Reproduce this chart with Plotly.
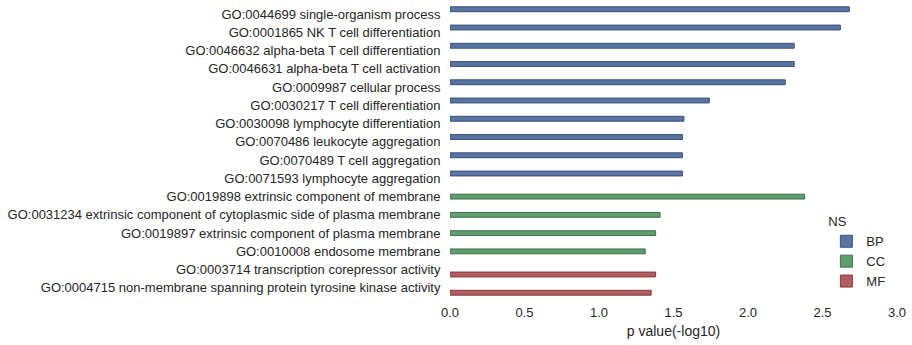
import plotly.graph_objects as go

# GO terms grouped by namespace, with enrichment p values (-log10)
bp_terms = [
    "GO:0044699 single-organism process",
    "GO:0001865 NK T cell differentiation",
    "GO:0046632 alpha-beta T cell differentiation",
    "GO:0046631 alpha-beta T cell activation",
    "GO:0009987 cellular process",
    "GO:0030217 T cell differentiation",
    "GO:0030098 lymphocyte differentiation",
    "GO:0070486 leukocyte aggregation",
    "GO:0070489 T cell aggregation",
    "GO:0071593 lymphocyte aggregation",
]
bp_values = [2.68, 2.62, 2.31, 2.31, 2.25, 1.74, 1.57, 1.56, 1.56, 1.56]

cc_terms = [
    "GO:0019898 extrinsic component of membrane",
    "GO:0031234 extrinsic component of cytoplasmic side of plasma membrane",
    "GO:0019897 extrinsic component of plasma membrane",
    "GO:0010008 endosome membrane",
]
cc_values = [2.38, 1.41, 1.38, 1.31]

mf_terms = [
    "GO:0003714 transcription corepressor activity",
    "GO:0004715 non-membrane spanning protein tyrosine kinase activity",
]
mf_values = [1.38, 1.35]

namespaces = ["BP", "CC", "MF"]
x_ticks = [0.0, 0.5, 1.0, 1.5, 2.0, 2.5, 3.0]

fills = {"BP": "#5874a2", "CC": "#5e9e6e", "MF": "#b45d60"}
edges = {"BP": "#3a5078", "CC": "#3e7049", "MF": "#823c3f"}

all_terms = bp_terms + cc_terms + mf_terms
groups = {"BP": (bp_terms, bp_values), "CC": (cc_terms, cc_values), "MF": (mf_terms, mf_values)}

FONT = "Liberation Sans, Arial, sans-serif"
TEXT = "#262626"

fig = go.Figure()
for ns in namespaces:
    terms, vals = groups[ns]
    # every namespace keeps its own slot within each term's row (hue-style dodge)
    fig.add_trace(go.Bar(
        x=vals, y=terms, orientation="h", name=ns,
        offsetgroup=ns, alignmentgroup="terms",
        marker=dict(color=fills[ns], line=dict(color=edges[ns], width=1)),
    ))

fig.update_layout(
    width=912, height=345,
    margin=dict(l=450, r=15, t=5, b=48),
    paper_bgcolor="white", plot_bgcolor="white",
    barmode="group", bargap=0.2, bargroupgap=0,
    font=dict(family=FONT, size=13, color=TEXT),
    legend=dict(
        title=dict(text="NS", font=dict(size=13, color=TEXT)),
        x=0.842, y=0.30, xanchor="left", yanchor="top",
        font=dict(size=13, color=TEXT),
        bgcolor="rgba(0,0,0,0)", tracegroupgap=0,
    ),
    xaxis=dict(
        range=[0, 3.0], tickvals=x_ticks, ticktext=[f"{v:.1f}" for v in x_ticks],
        showgrid=False, zeroline=False, showline=False,
        ticks="outside", ticklen=3, tickcolor="rgba(0,0,0,0)",
        title=dict(text="p value(-log10)", font=dict(size=14, color=TEXT), standoff=7),
        tickfont=dict(size=13, color=TEXT),
    ),
    yaxis=dict(
        type="category", categoryorder="array", categoryarray=all_terms,
        autorange="reversed",
        showgrid=False, zeroline=False, showline=False,
        ticks="outside", ticklen=6, tickcolor="rgba(0,0,0,0)",
        tickfont=dict(size=13, color=TEXT),
    ),
)

fig.write_html("out.html")
